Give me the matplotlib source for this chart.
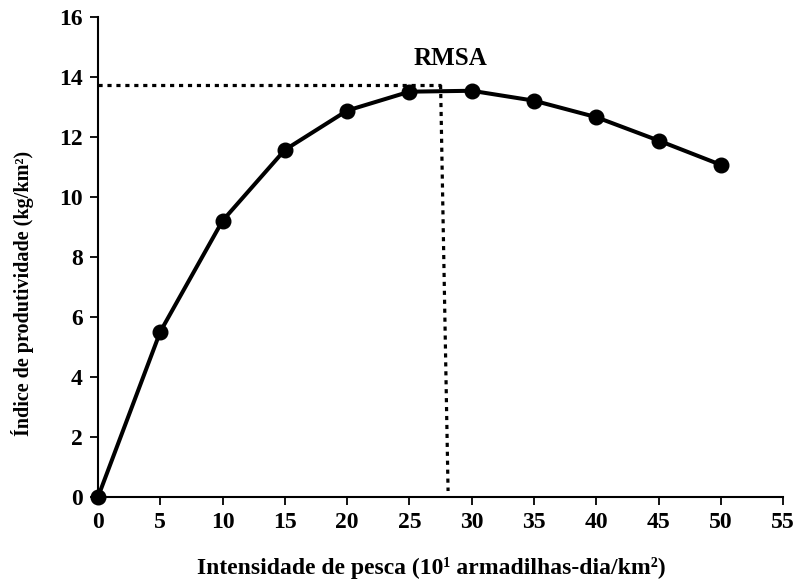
import matplotlib
matplotlib.use("Agg")
import matplotlib.pyplot as plt

# Fishing effort vs. productivity index
effort = [0, 5, 10, 15, 20, 25, 30, 35, 40, 45, 50]
productivity = [0, 5.51, 9.21, 11.57, 12.88, 13.51, 13.54, 13.21, 12.66, 11.88, 11.07]

# RMSA reference lines (horizontal level and the slightly slanted vertical guide)
rmsa_y = 13.73
rmsa_x_top = 27.5
rmsa_x_bottom = 28.1
rmsa_y_bottom = 0.2

x_ticks = list(range(0, 56, 5))
y_ticks = list(range(0, 17, 2))

plt.rcParams["font.family"] = ["Liberation Serif", "DejaVu Serif"]
plt.rcParams["font.weight"] = "bold"

fig = plt.figure(figsize=(8, 5.85), dpi=100)
ax = fig.add_axes([0.1225, 0.1504, 0.979 - 0.1225, 0.971 - 0.1504])

dot_style = dict(color="black", lw=2.3, dashes=(1.3, 1.5), dash_capstyle="butt", solid_capstyle="butt")
ax.plot([0, rmsa_x_top], [rmsa_y, rmsa_y], **dot_style)
ax.plot([rmsa_x_top, rmsa_x_bottom], [rmsa_y, rmsa_y_bottom], **dot_style)

ax.plot(effort, productivity, color="black", lw=2.9, marker="o", markersize=10.5,
        markerfacecolor="black", markeredgecolor="black", clip_on=False, zorder=5)

ax.text(28.3, 14.63, "RMSA", ha="center", va="center", fontsize=18, fontweight="bold")

ax.set_xlim(0, 55)
ax.set_ylim(0, 16)
ax.set_xticks(x_ticks)
ax.set_yticks(y_ticks)
ax.tick_params(axis="both", direction="out", length=6, width=1.3, labelsize=17, pad=5)
for lbl in ax.get_xticklabels() + ax.get_yticklabels():
    lbl.set_fontweight("bold")

for side in ("top", "right"):
    ax.spines[side].set_visible(False)
for side in ("left", "bottom"):
    ax.spines[side].set_linewidth(1.5)

ax.set_xlabel("Intensidade de pesca (10¹ armadilhas-dia/km²)",
              fontsize=17, fontweight="bold")
ax.set_ylabel("Índice de produtividade (kg/km²)",
              fontsize=14.5, fontweight="bold")
ax.xaxis.set_label_coords(0.486, -0.125)
ax.yaxis.set_label_coords(-0.094, 0.425)

fig.savefig("out.png", dpi=100)
